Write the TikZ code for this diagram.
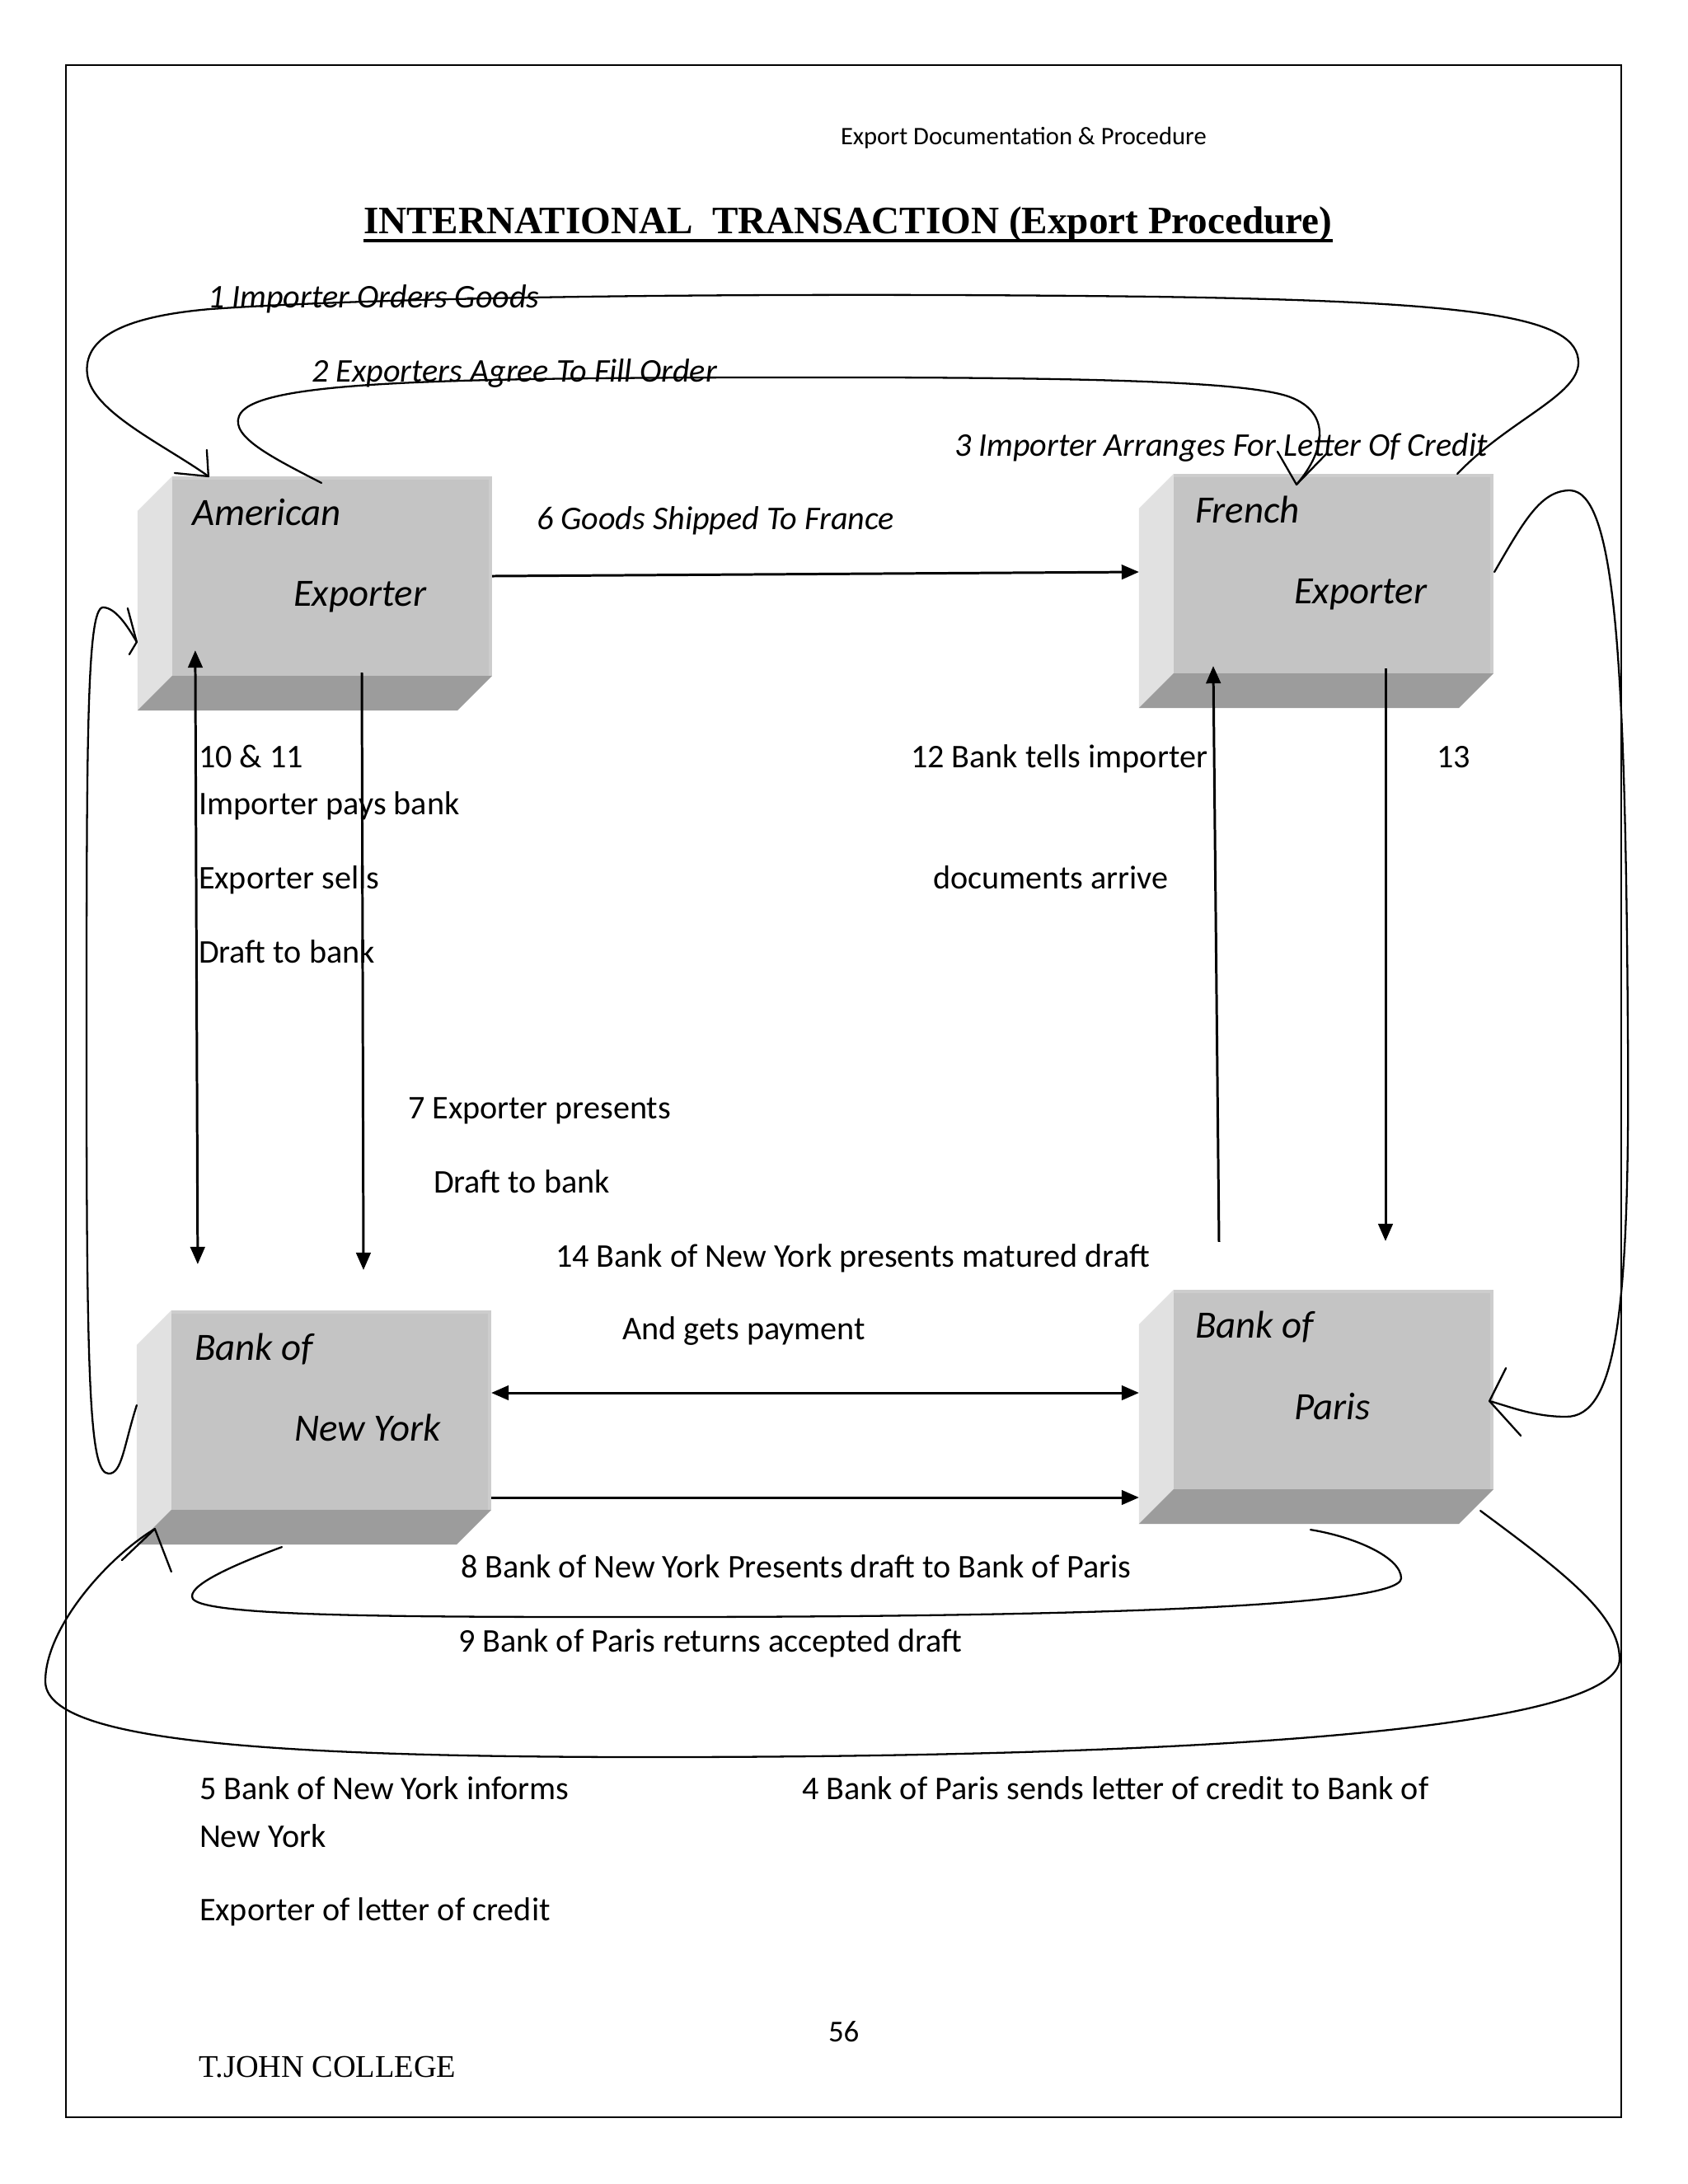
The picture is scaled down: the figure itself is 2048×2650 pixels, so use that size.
\documentclass[tikz,border=0pt]{standalone}
\usepackage{fontspec}
\setmainfont{Carlito}
\newfontfamily\timesfont{Liberation Serif}
\usetikzlibrary{arrows.meta,calc}
\definecolor{frontgray}{HTML}{C4C4C4}
\definecolor{edgegray}{HTML}{CDCDCD}
\definecolor{sidegray}{HTML}{E1E1E1}
\definecolor{bottomgray}{HTML}{9C9C9C}
\newcommand\cuboidfaces[1]{%
  \fill[sidegray] (#1.north west) -- ++(-42,42) -- ($(#1.south west)+(-42,42)$) -- (#1.south west) -- cycle;
  \fill[bottomgray] (#1.south west) -- (#1.south east) -- ($(#1.south east)+(-42,42)$) -- ($(#1.south west)+(-42,42)$) -- cycle;
  \draw[edgegray,line width=1.3pt] ($(#1.north west)+(0,2)$) -- ($(#1.north east)+(-2,2)$) -- ($(#1.south east)+(-2,0)$);
}
\begin{document}
\begin{tikzpicture}[x=0.01cm,y=-0.01cm,
  boxface/.style={fill=frontgray,draw=none,minimum width=3.88cm,minimum height=2.42cm,inner sep=0pt,outer sep=0pt},
  lbl/.style={anchor=base west,inner sep=0pt,outer sep=0pt,font=\fontsize{11.42}{13}\selectfont},
  itlbl/.style={anchor=base west,inner sep=0pt,outer sep=0pt,font=\fontsize{11.42}{13}\selectfont\itshape},
  boxlbl/.style={anchor=base west,inner sep=0pt,outer sep=0pt,font=\fontsize{13.33}{15}\selectfont\itshape},
  conn/.style={line width=0.85pt},
  tip/.style={-{Triangle[length=6pt,width=5pt]}},
  dtip/.style={{Triangle[length=6pt,width=5pt]}-{Triangle[length=6pt,width=5pt]}},
  curve/.style={line width=0.65pt,line cap=round,line join=round},
  frameline/.style={line width=0.7pt}]
\useasboundingbox (0,0) rectangle (2048,2650);
\fill[white] (0,0) rectangle (2048,2650);
\draw[frameline] (80,79) rectangle (1967,2569);

% boxes
\node[boxface] (AE) at (403,699) {};
\node[boxface] (FE) at (1618,696) {};
\node[boxface] (BNY) at (402,1711) {};
\node[boxface] (BP) at (1618,1686) {};
\cuboidfaces{AE}
\cuboidfaces{FE}
\cuboidfaces{BNY}
\cuboidfaces{BP}

% box labels
\node[boxlbl] (ae1) at (233,637) {American};
\node[boxlbl] (ae2) at (356,735) {Exporter};
\node[boxlbl] (fe1) at (1450,634) {French};
\node[boxlbl] (fe2) at (1570,732) {Exporter};
\node[boxlbl] (bn1) at (236,1650) {Bank of};
\node[boxlbl] (bn2) at (357,1748) {New York};
\node[boxlbl] (bp1) at (1450,1623) {Bank of};
\node[boxlbl] (bp2) at (1570,1722) {Paris};

% header, title, footer
\node[lbl] (hdr) at (1020,175) {\fontsize{8.7}{10}\selectfont Export Documentation \& Procedure};
\node[lbl] (title) at (441,283) {\timesfont\bfseries\fontsize{13.4}{15}\selectfont INTERNATIONAL\ \ TRANSACTION (Export Procedure)};
\draw[line width=0.9pt] ($(title.base west)+(0,9)$) -- ($(title.base east)+(0,9)$);
\node[lbl] (pg) at (1005,2477) {\fontsize{10.5}{12}\selectfont 56};
\node[lbl] (college) at (241,2520) {\timesfont\fontsize{10.9}{12}\selectfont T.JOHN COLLEGE};

% italic step labels
\node[itlbl] (s1) at (252,373) {1 Importer Orders Goods};
\node[itlbl] (s2) at (378,463) {2 Exporters Agree To Fill Order};
\node[itlbl] (s3) at (1158,553) {3 Importer Arranges For Letter Of Credit};
\node[itlbl] (s6) at (651,642) {6 Goods Shipped To France};

% upright labels
\node[lbl] (s10) at (241,931) {10 \& 11};
\node[lbl] (s10b) at (241,988) {Importer pays bank};
\node[lbl] (s10c) at (241,1078) {Exporter sells};
\node[lbl] (s10d) at (241,1168) {Draft to bank};
\node[lbl] (s12) at (1105,931) {12 Bank tells importer};
\node[lbl] (s12b) at (1132,1078) {documents arrive};
\node[lbl] (s13) at (1743,931) {13};
\node[lbl] (s7) at (495,1357) {7 Exporter presents};
\node[lbl] (s7b) at (526,1447) {Draft to bank};
\node[lbl] (s14) at (674,1537) {14 Bank of New York presents matured draft};
\node[lbl] (s14b) at (755,1625) {And gets payment};
\node[lbl] (s8) at (559,1914) {8 Bank of New York Presents draft to Bank of Paris};
\node[lbl] (s9) at (556,2004) {9 Bank of Paris returns accepted draft};
\node[lbl] (s5) at (242,2183) {5 Bank of New York informs};
\node[lbl] (s5b) at (242,2241) {New York};
\node[lbl] (s5c) at (242,2330) {Exporter of letter of credit};
\node[lbl] (s4) at (973,2183) {4 Bank of Paris sends letter of credit to Bank of};

% straight connectors
\draw[conn,tip] (AE.east) -- ($(FE.west)+(-42,-2)$);
\draw[conn,dtip] ($(AE.south west)+(28,-31)$) -- ($(BNY.north west)+(32,-56)$);
\draw[conn,tip] ($(AE.south)+(36,-4)$) -- ($(BNY.north)+(39,-49)$);
\draw[conn,tip] ($(BP.north)+(-139,-58)$) -- ($(FE.south)+(-146,-9)$);
\draw[conn,tip] ($(FE.south)+(63,-6)$) -- ($(BP.north)+(63,-59)$);
\draw[conn,dtip] ($(BNY.east)+(0,-21)$) -- ($(BP.west)+(-42,4)$);
\draw[conn,tip] ($(BNY.east)+(0,106)$) -- ($(BP.west)+(-42,131)$);

% hand-drawn curves
\coordinate (c1s) at ($(FE.north east)+(-44,0)$);
\coordinate (c1e) at ($(AE.north west)+(44,0)$);
\draw[curve] (c1s) .. controls (1830,510) and (1915,480) .. (1915,440)
  .. controls (1915,385) and (1800,366) .. (1400,360)
  .. controls (1000,355) and (500,358) .. (255,375)
  .. controls (150,384) and (100,410) .. (106,455)
  .. controls (112,500) and (200,540) .. (c1e);
\draw[curve] ($(c1e)+(-41,-4)$) -- (c1e) -- ($(c1e)+(-2,-32)$);

\coordinate (c2s) at ($(AE.north)+(-13,8)$);
\coordinate (c2e) at ($(FE.north)+(-45,13)$);
\draw[curve] (c2s) .. controls (330,555) and (280,530) .. (290,505)
  .. controls (305,465) and (500,459) .. (900,458)
  .. controls (1300,457) and (1500,462) .. (1560,480)
  .. controls (1615,497) and (1610,545) .. (c2e);
\draw[curve] ($(c2e)+(-23,-40)$) -- (c2e) -- ($(c2e)+(37,-38)$);

\coordinate (c3s) at ($(FE.east)+(1,-2)$);
\coordinate (c3e) at ($(BP.east)+(-5,14)$);
\draw[curve] (c3s) .. controls (1850,630) and (1870,595) .. (1905,595)
  .. controls (1960,597) and (1972,800) .. (1975,1250)
  .. controls (1978,1600) and (1960,1719) .. (1900,1719)
  .. controls (1860,1719) and (1830,1706) .. (c3e);
\draw[curve] ($(c3e)+(20,-40)$) -- (c3e) -- ($(c3e)+(38,42)$);

\coordinate (c4s) at ($(BNY.west)+(-42,-6)$);
\coordinate (c4e) at ($(AE.west)+(-43,80)$);
\draw[curve] (c4s) .. controls (150,1755) and (148,1788) .. (132,1788)
  .. controls (110,1788) and (105,1700) .. (105,1300)
  .. controls (105,900) and (105,737) .. (125,737)
  .. controls (140,737) and (155,760) .. (c4e);
\draw[curve] ($(c4e)+(-11,-41)$) -- (c4e) -- ($(c4e)+(-9,15)$);

\coordinate (c5s) at ($(BNY.south)+(-60,45)$);
\coordinate (c5e) at ($(BP.south)+(-28,49)$);
\draw[curve] (c5s) .. controls (280,1900) and (225,1925) .. (234,1940)
  .. controls (250,1962) and (500,1962) .. (790,1962)
  .. controls (1300,1962) and (1700,1950) .. (1700,1915)
  .. controls (1700,1890) and (1645,1865) .. (c5e);

\coordinate (c6s) at ($(BP.south east)+(-16,26)$);
\coordinate (c6e) at ($(BNY.south west)+(-20,23)$);
\draw[curve] (c6s) .. controls (1900,1910) and (1965,1960) .. (1965,2013)
  .. controls (1965,2095) and (1500,2132) .. (790,2132)
  .. controls (300,2132) and (55,2110) .. (55,2040)
  .. controls (55,1975) and (130,1890) .. (c6e);
\draw[curve] ($(c6e)+(-40,38)$) -- (c6e) -- ($(c6e)+(20,52)$);
\end{tikzpicture}
\end{document}
